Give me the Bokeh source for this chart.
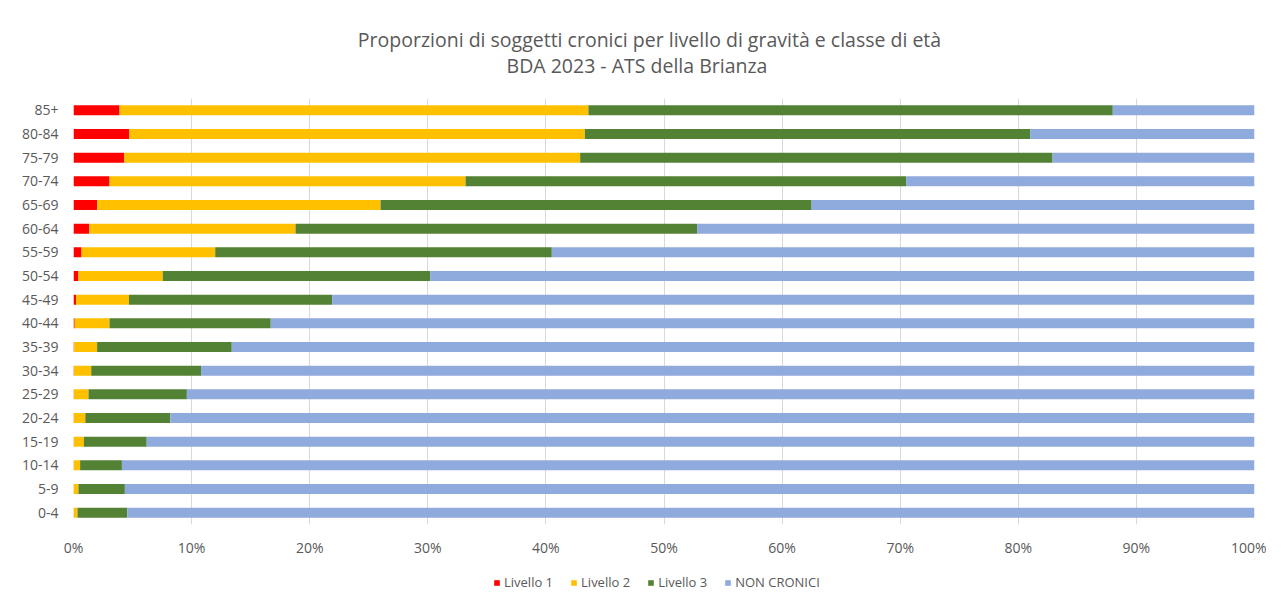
from bokeh.plotting import figure
from bokeh.layouts import column
from bokeh.models import ColumnDataSource, Range1d, NumeralTickFormatter, FixedTicker, Legend, LegendItem
from bokeh.core.properties import value
from bokeh.embed import file_html
from bokeh.resources import INLINE

categories = ["0-4", "5-9", "10-14", "15-19", "20-24", "25-29", "30-34", "35-39", "40-44",
              "45-49", "50-54", "55-59", "60-64", "65-69", "70-74", "75-79", "80-84", "85+"]
livello1 = [0.02, 0.02, 0.02, 0.02, 0.03, 0.03, 0.04, 0.06, 0.10,
            0.22, 0.42, 0.68, 1.33, 2.00, 3.05, 4.30, 4.70, 3.90]
livello2 = [0.32, 0.40, 0.54, 0.86, 0.97, 1.24, 1.46, 1.94, 2.95,
            4.48, 7.14, 11.32, 17.47, 24.00, 30.15, 38.60, 38.60, 39.70]
livello3 = [4.21, 3.93, 3.54, 5.32, 7.20, 8.33, 9.30, 11.40, 13.65,
            17.20, 22.64, 28.50, 34.00, 36.50, 37.30, 40.00, 37.70, 44.40]
non_cronici = [95.45, 95.65, 95.90, 93.80, 91.80, 90.40, 89.20, 86.60, 83.30,
               78.10, 69.80, 59.50, 47.20, 37.50, 29.50, 17.10, 19.00, 12.00]
series_names = ["Livello 1", "Livello 2", "Livello 3", "NON CRONICI"]
series_keys = ["l1", "l2", "l3", "nc"]
colors = ["#FF0000", "#FFC000", "#548235", "#8FAADC"]
x_ticks = [0, 0.1, 0.2, 0.3, 0.4, 0.5, 0.6, 0.7, 0.8, 0.9, 1.0]
title_lines = ["Proporzioni di soggetti cronici per livello di gravità e classe di età",
               "BDA 2023 -  ATS della Brianza"]

FONT = "Open Sans"
GREY = "#595959"
W = 1266
FL, FR = 73, 1254   # frame left / right in pixels (frames are aligned in the column)

# ---- title strip (data units = pixels) ----
pt = figure(width=W, height=98, x_range=Range1d(FL, FR), y_range=Range1d(0, 98),
            output_backend="svg", toolbar_location=None,
            min_border_left=FL, min_border_right=W - FR, min_border_top=0, min_border_bottom=0,
            x_axis_type=None, y_axis_type=None)
pt.grid.visible = False
pt.outline_line_color = None
pt.text(x=[649, 639], y=[59, 33], text=title_lines,
        text_font=value(FONT), text_font_size="19.5px", text_color=GREY,
        text_align="center", text_baseline="middle")

# ---- main chart ----
source = ColumnDataSource(data=dict(
    cat=categories,
    l1=[v / 100 for v in livello1],
    l2=[v / 100 for v in livello2],
    l3=[v / 100 for v in livello3],
    nc=[v / 100 for v in non_cronici],
))

p = figure(width=W, height=461, y_range=categories, x_range=Range1d(0, 1),
           output_backend="svg", toolbar_location=None,
           min_border_left=FL, min_border_right=W - FR, min_border_top=0, min_border_bottom=27)

renderers = p.hbar_stack(series_keys, y="cat", height=0.42, source=source,
                         color=colors, line_color=None)

p.xaxis.ticker = FixedTicker(ticks=x_ticks)
p.xaxis.formatter = NumeralTickFormatter(format="0%")
for ax in (p.xaxis, p.yaxis):
    ax.axis_line_color = None
    ax.major_tick_line_color = None
    ax.minor_tick_line_color = None
    ax.major_label_text_font = FONT
    ax.major_label_text_font_size = "14px"
    ax.major_label_text_color = GREY
p.xaxis.major_label_standoff = 7
p.yaxis.major_label_standoff = 9

p.xgrid.grid_line_color = "#D9D9D9"
p.ygrid.grid_line_color = None
p.outline_line_color = None

# ---- legend strip ----
pl = figure(width=W, height=32, x_range=Range1d(0, 1), y_range=Range1d(0, 1),
            output_backend="svg", toolbar_location=None,
            min_border_left=FL, min_border_right=W - FR, min_border_top=0, min_border_bottom=0,
            x_axis_type=None, y_axis_type=None)
pl.grid.visible = False
pl.outline_line_color = None
items = []
for name, c in zip(series_names, colors):
    # swatch-only renderer, kept outside the visible range
    r = pl.hbar(y=[5], left=[4], right=[5], height=1, color=c, line_color=None)
    items.append(LegendItem(label=name, renderers=[r]))
legend = Legend(items=items, orientation="horizontal", location=(493 - FL, 0),
                label_text_font=FONT, label_text_font_size="13px", label_text_color=GREY,
                glyph_width=7, glyph_height=7, spacing=17, label_standoff=4,
                border_line_color=None, background_fill_alpha=0, margin=0, padding=0)
pl.add_layout(legend, "center")

layout = column(pt, p, pl, spacing=0)
open("out.html", "w").write(file_html(layout, INLINE))
